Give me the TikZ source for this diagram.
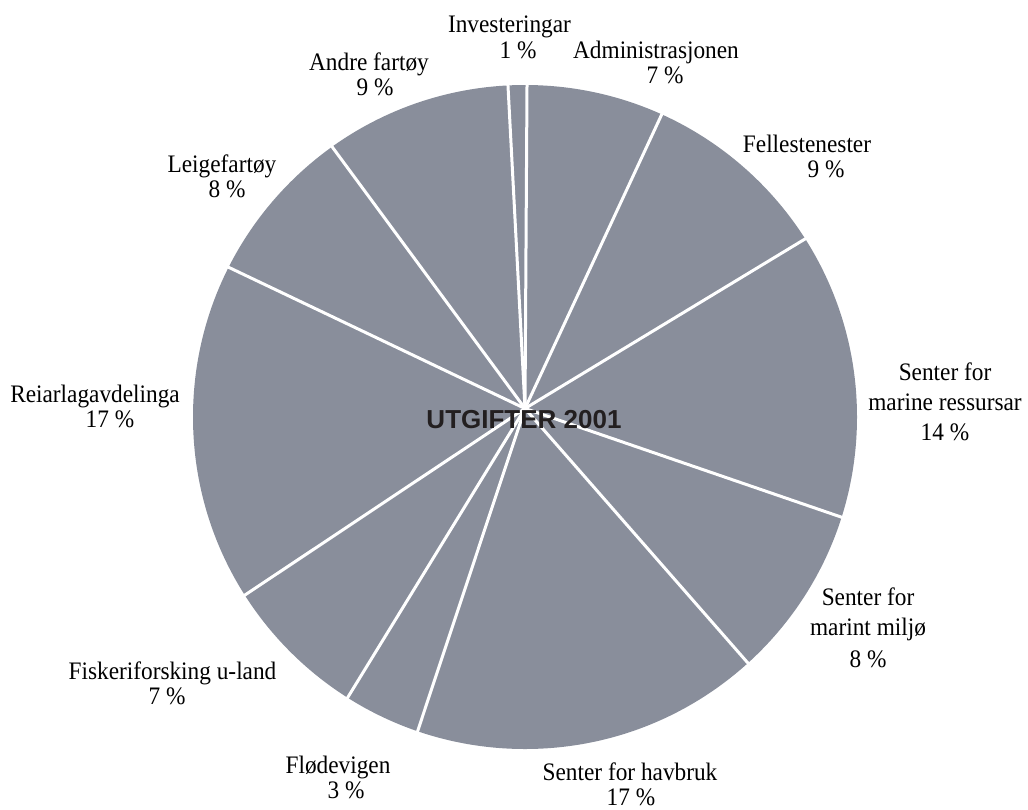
\documentclass[tikz,border=0pt]{standalone}
\usepackage{fontspec}
\setmainfont{Liberation Serif}
\newfontfamily\titlefont{Liberation Sans}
\usetikzlibrary{calc}
\definecolor{piecol}{RGB}{137,142,155}
\definecolor{titlecol}{RGB}{35,31,32}
\tikzset{
  lbl/.style={anchor=base, inner sep=0pt, text=black, font=\fontsize{23.3}{25}\selectfont},
  sep/.style={draw=white, line width=3pt, shorten >=-4pt},
  ttl/.style={anchor=base, inner sep=0pt, text=titlecol, font=\titlefont\bfseries\fontsize{26}{28}\selectfont}
}
\newcommand{\tl}[1]{\scalebox{1}[1.08]{#1}}
\begin{document}
\begin{tikzpicture}[x=1pt,y=-1pt]
\useasboundingbox (0,0) rectangle (1028,809);
% pie body
\coordinate (C) at (525,417);
\coordinate (P) at (525,408.5);
\fill[piecol] (C) circle[radius=332pt];
% slice boundaries
\coordinate (b1) at (508,86);
\coordinate (b2) at (527,86);
\coordinate (b3) at (661,116);
\coordinate (b4) at (805,239);
\coordinate (b5) at (841,517);
\coordinate (b6) at (747,662);
\coordinate (b7) at (418,730);
\coordinate (b8) at (348,697);
\coordinate (b9) at (245,595);
\coordinate (b10) at (228,267);
\coordinate (b11) at (333,148);
\foreach \b in {b1,b2,b3,b4,b5,b6,b7,b8,b9,b10,b11}
  \draw[sep] (P) -- (\b);
% title
\node[ttl] (title) at (524,428) {UTGIFTER 2001};
% labels
\node[lbl] (inv) at (509.5,32) {\tl{Investeringar}};
\node[lbl] (invp) at (518,58) {\tl{1 \%}};
\node[lbl] (adm) at (656,58) {\tl{Administrasjonen}};
\node[lbl] (admp) at (665,83) {\tl{7 \%}};
\node[lbl] (fel) at (807,152) {\tl{Fellestenester}};
\node[lbl] (felp) at (826,177) {\tl{9 \%}};
\node[lbl] (smr1) at (945,380) {\tl{Senter for}};
\node[lbl] (smr2) at (945,410) {\tl{marine ressursar}};
\node[lbl] (smrp) at (945,440) {\tl{14 \%}};
\node[lbl] (smm1) at (868,605) {\tl{Senter for}};
\node[lbl] (smm2) at (868,635) {\tl{marint miljø}};
\node[lbl] (smmp) at (868,667) {\tl{8 \%}};
\node[lbl] (hav) at (630,780) {\tl{Senter for havbruk}};
\node[lbl] (havp) at (631,805) {\tl{17 \%}};
\node[lbl] (flo) at (338,773) {\tl{Flødevigen}};
\node[lbl] (flop) at (346,798) {\tl{3 \%}};
\node[lbl] (fis) at (172.5,679) {\tl{Fiskeriforsking u-land}};
\node[lbl] (fisp) at (167,704) {\tl{7 \%}};
\node[lbl] (rei) at (95,402) {\tl{Reiarlagavdelinga}};
\node[lbl] (reip) at (110,427) {\tl{17 \%}};
\node[lbl] (lei) at (222,172) {\tl{Leigefartøy}};
\node[lbl] (leip) at (227,197) {\tl{8 \%}};
\node[lbl] (and) at (369,70) {\tl{Andre fartøy}};
\node[lbl] (andp) at (375,95) {\tl{9 \%}};
\end{tikzpicture}
\end{document}
